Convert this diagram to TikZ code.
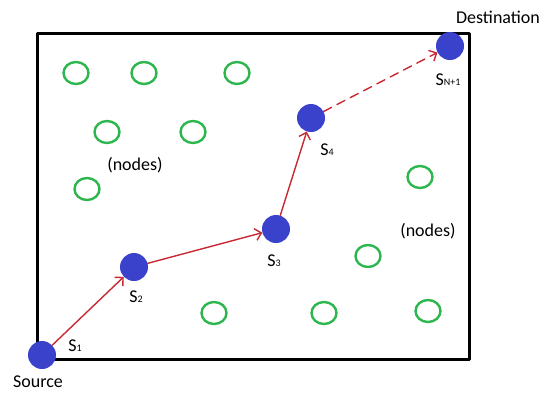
\documentclass[tikz,border=0pt]{standalone}
\usepackage{fontspec}
\setmainfont{Carlito}
\usetikzlibrary{arrows,arrows.meta,shapes.geometric}
\definecolor{hopblue}{RGB}{58,66,204}
\definecolor{hopred}{RGB}{200,40,50}
\definecolor{idlegreen}{RGB}{46,182,78}
\newcommand{\hop}[1]{S{\fontsize{10}{10}\selectfont #1}}

\begin{document}
\begin{tikzpicture}[line cap=round,line join=round,>={Straight Barb[length=6pt,width=12pt]},x=1pt,y=-1pt,
  font=\fontsize{18}{20}\selectfont,
  sensor/.style={circle,fill=hopblue,minimum size=28pt,inner sep=0pt},
  idle/.style={ellipse,draw=idlegreen,line width=2.4pt,minimum width=25pt,minimum height=22pt,inner sep=0pt},
  hopline/.style={->,color=hopred,line width=1.4pt}]
\useasboundingbox (0,0) rectangle (547,392);
%field
\draw[line width=3pt] (37,33) rectangle (469,359);
%idle nodes
\foreach \x/\y [count=\i] in {76/73,144/73,237/73,107/132,193/132,87/189,420/177,368/256,214/313,324/313,428/311}
{
\node[idle] (g\i) at (\x,\y) {};
}
\node (nl) at (135,165) {(nodes)};
\node (nr) at (428,231) {(nodes)};

%route
\node[sensor] (s1) at (42,355) {};
\node[sensor] (s2) at (134,267) {};
\node[sensor] (s3) at (276,229) {};
\node[sensor] (s4) at (311,118) {};
\node[sensor] (sn) at (450,46) {};
\draw[hopline] (s1)--(s2);
\draw[hopline] (s2)--(s3);
\draw[hopline] (s3)--(s4);
\draw[hopline,dashed,dash pattern=on 9pt off 6pt] (s4)--(sn);

\node (l1) at (75,346) {\hop{1}};
\node (l2) at (136,297) {\hop{2}};
\node (l3) at (274,261) {\hop{3}};
\node (l4) at (327,150) {\hop{4}};
\node (ln) at (448,80) {\hop{N+1}};
\node (src) at (38,382) {Source};
\node (dst) at (498,17) {Destination};
\end{tikzpicture}
\end{document}
